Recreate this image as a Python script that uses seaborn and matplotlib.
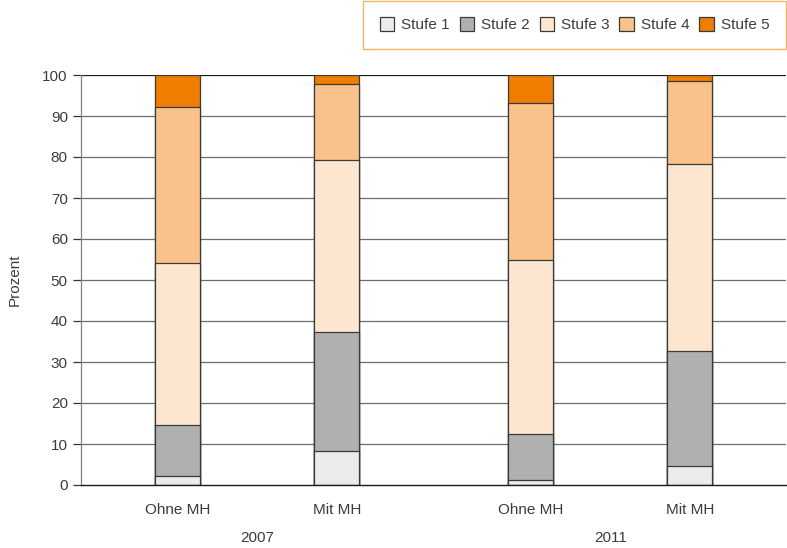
import matplotlib
matplotlib.use('Agg')
import matplotlib.pyplot as plt
import matplotlib.patches as mpatches
import matplotlib.transforms as mtrans
import numpy as np
import pandas as pd
import seaborn as sns

sns.set_style("white")
plt.rcParams['font.family'] = ['Liberation Sans', 'DejaVu Sans']

# Data (Prozent)
categories = ["Ohne MH", "Mit MH", "Ohne MH", "Mit MH"]
years = ["2007", "2011"]
levels = ["Stufe 1", "Stufe 2", "Stufe 3", "Stufe 4", "Stufe 5"]
stufe1 = [2.3, 8.4, 1.2, 4.7]
stufe2 = [12.3, 29.0, 11.3, 28.1]
stufe3 = [39.5, 41.9, 42.5, 45.5]
stufe4 = [38.0, 18.5, 38.1, 20.2]
stufe5 = [7.9, 2.2, 6.9, 1.5]
colors = ["#ebebeb", "#b0b0b0", "#fde6cf", "#f8c28a", "#ef7d00"]

# x positions: gap between the two year groups
xpos = [0.0, 1.0, 2.22, 3.22]

series = [stufe1, stufe2, stufe3, stufe4, stufe5]
cum = np.cumsum(np.array(series), axis=0)

fig = plt.figure(figsize=(7.87, 5.48), dpi=100)
ax = fig.add_axes([81 / 787, 1 - 485 / 548, 705 / 787, 410 / 548])

# Gridlines behind bars
for v in range(10, 101, 10):
    ax.axhline(v, color="#1a1a1a" if v == 100 else "#6e6e6e", lw=0.9, zorder=0)

# Draw stacked bars: cumulative totals from top layer down
for i in range(len(levels) - 1, -1, -1):
    df = pd.DataFrame({"x": xpos, "y": cum[i]})
    sns.barplot(data=df, x="x", y="y", native_scale=True, width=0.283,
                color=colors[i], saturation=1, edgecolor="#3a3a3a",
                linewidth=0.9, errorbar=None, ax=ax, zorder=2)

fs = 11
txt = "#3c3c3c"
ax.set_xlim(-0.61, 3.824)
ax.set_ylim(0, 100)
ax.set_yticks(range(0, 101, 10))
ax.set_xticks(xpos)
ax.set_xticklabels(categories)
ax.set_xticks([-0.61, 1.61], minor=True)
ax.tick_params(axis="x", which="major", length=0, pad=13, labelsize=fs, colors=txt)
ax.tick_params(axis="x", which="minor", length=7, width=0.9, color="#333333", direction="out")
ax.tick_params(axis="y", length=6, width=0.9, color="#333333", direction="out",
               labelsize=fs, labelcolor=txt, left=True)
ax.set_xlabel("")
ax.set_ylabel("Prozent", fontsize=fs, color=txt, labelpad=15)

for side in ["top", "right"]:
    ax.spines[side].set_visible(False)
ax.spines["left"].set_color("#808080")
ax.spines["left"].set_linewidth(0.9)
ax.spines["bottom"].set_color("#1a1a1a")
ax.spines["bottom"].set_linewidth(1.0)

# Year labels below categories
trans = mtrans.blended_transform_factory(ax.transData, fig.transFigure)
ax.text((xpos[0] + xpos[1]) / 2, 1 - 538 / 548, years[0], transform=trans,
        ha="center", va="center", fontsize=fs, color=txt)
ax.text((xpos[2] + xpos[3]) / 2, 1 - 538 / 548, years[1], transform=trans,
        ha="center", va="center", fontsize=fs, color=txt)

# Legend
handles = [mpatches.Patch(facecolor=c, edgecolor="#3a3a3a", linewidth=0.9, label=l)
           for c, l in zip(colors, levels)]
leg = fig.legend(handles=handles, ncol=5, loc="upper right",
                 bbox_to_anchor=(0.999, 0.999), frameon=True, fancybox=False,
                 fontsize=11, handlelength=0.95, handleheight=0.95,
                 handletextpad=0.45, columnspacing=0.65, borderpad=1.1,
                 borderaxespad=0)
leg.get_frame().set_edgecolor("#f0a040")
leg.get_frame().set_linewidth(1.0)
for t in leg.get_texts():
    t.set_color(txt)

fig.savefig("out.png", dpi=100)
plt.close(fig)
